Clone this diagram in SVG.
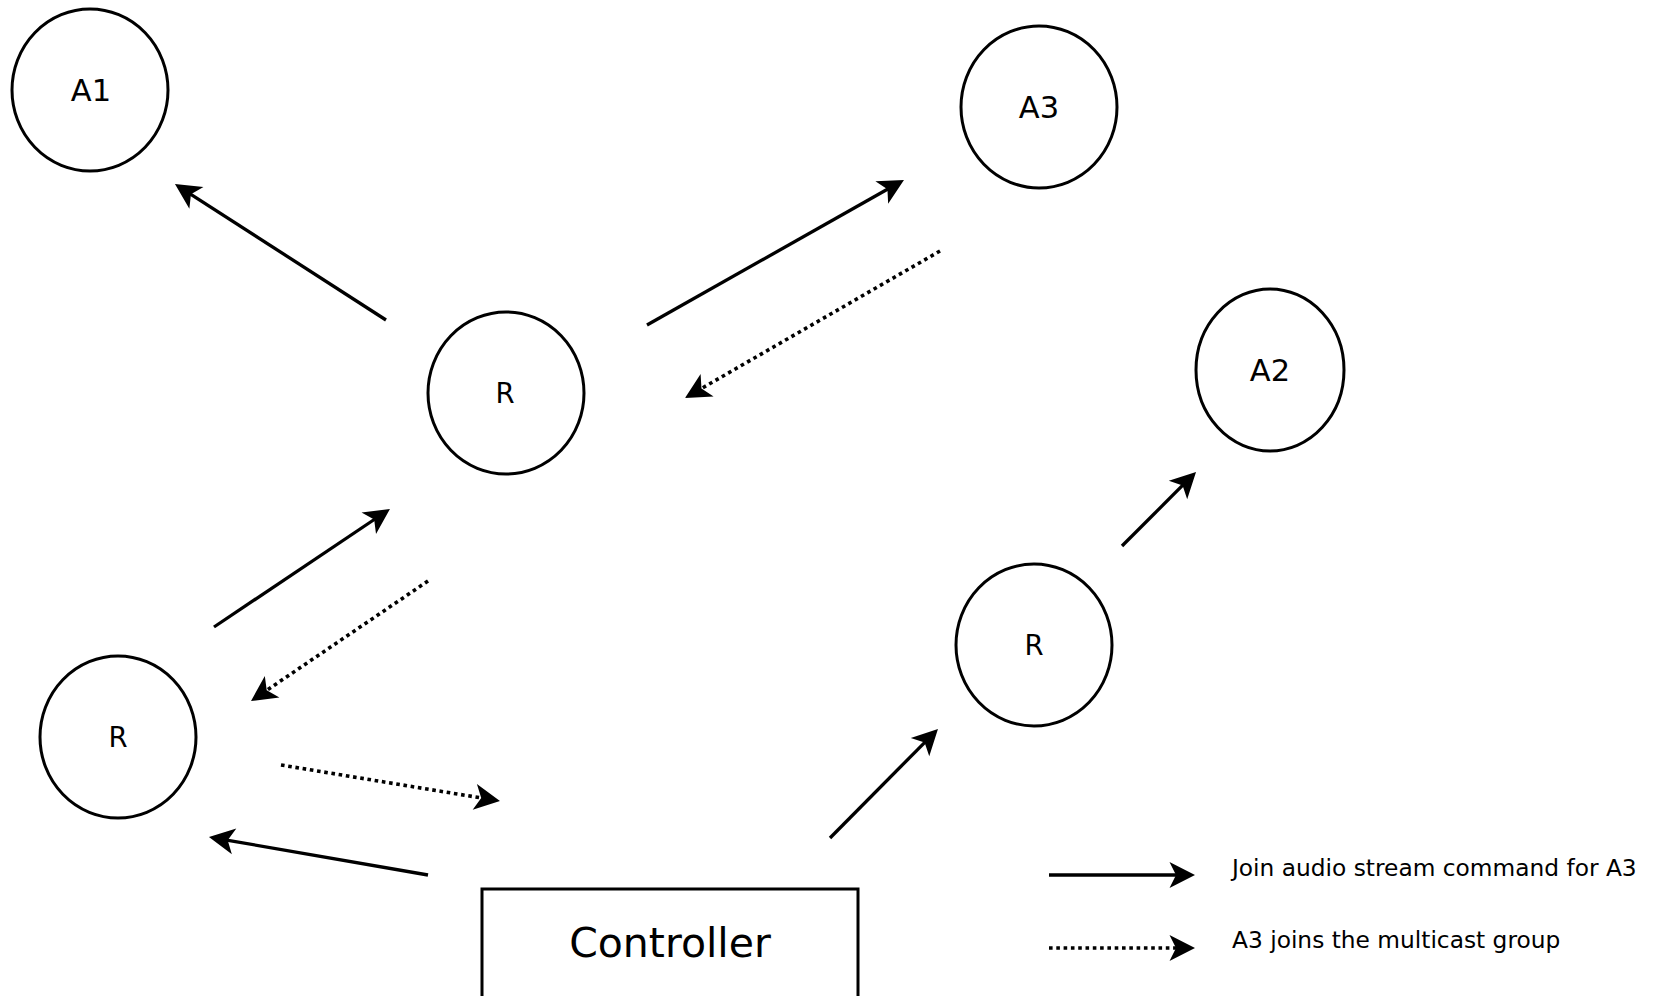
<svg xmlns="http://www.w3.org/2000/svg" width="1657" height="996" viewBox="0 0 1657 996">
<style>
.node{fill:#fff;stroke:#000;stroke-width:3}
.lbl{font-family:"DejaVu Sans",sans-serif;fill:#000;text-anchor:middle}
.a{font-size:30.5px}
.r{font-size:27.5px}
.leg{font-family:"DejaVu Sans",sans-serif;font-size:23.3px;fill:#000}
.solid{fill:none;stroke:#000;stroke-width:3.3;marker-end:url(#head)}
.dot{fill:none;stroke:#000;stroke-width:3.6;stroke-dasharray:3.6 3.7;marker-end:url(#head)}
</style>
<defs>
<marker id="head" viewBox="-10 -15 30 30" markerWidth="30" markerHeight="30" refX="0" refY="0" markerUnits="userSpaceOnUse" orient="auto" overflow="visible">
<path d="M18,0 L-7.5,-13 L-1,0 L-7.5,13 Z" fill="#000"/>
</marker>
</defs>
<rect width="1657" height="996" fill="#fff"/>
<g id="A1"><ellipse class="node" cx="90" cy="90" rx="78" ry="81"/><text class="lbl a" x="91" y="101">A1</text></g>
<g id="A3"><ellipse class="node" cx="1039" cy="107" rx="78" ry="81"/><text class="lbl a" x="1039" y="118">A3</text></g>
<g id="A2"><ellipse class="node" cx="1270" cy="370" rx="74" ry="81"/><text class="lbl a" x="1270" y="381">A2</text></g>
<g id="R1"><ellipse class="node" cx="506" cy="393" rx="78" ry="81"/><text class="lbl r" x="505" y="403">R</text></g>
<g id="R2"><ellipse class="node" cx="118" cy="737" rx="78" ry="81"/><text class="lbl r" x="118" y="747">R</text></g>
<g id="R3"><ellipse class="node" cx="1034" cy="645" rx="78" ry="81"/><text class="lbl r" x="1034" y="655">R</text></g>
<g id="Controller"><rect x="482" y="889" width="376" height="130" fill="#fff" stroke="#000" stroke-width="3"/><text class="lbl" x="670" y="957" font-size="41">Controller</text></g>
<g id="connectors">
<path class="solid" d="M386,320 L190.1,193.8"/>
<path class="solid" d="M647,325 L888.3,188.8"/>
<path class="dot" d="M940,251 L700.6,389"/>
<path class="solid" d="M214,627 L375,519"/>
<path class="dot" d="M428,581 L265.9,690.9"/>
<path class="dot" d="M281,765 L482.2,798.1"/>
<path class="solid" d="M428,875 L226.7,840.1"/>
<path class="solid" d="M830,838 L925.3,741.8"/>
<path class="solid" d="M1122,546 L1183.3,484.7"/>
</g>
<g id="legend">
<path class="solid" d="M1049,875 L1177,875"/>
<path class="dot" d="M1049,948 L1177,948"/>
<text class="leg" x="1232" y="876">Join audio stream command for A3</text>
<text class="leg" x="1232" y="948">A3 joins the multicast group</text>
</g>
</svg>
